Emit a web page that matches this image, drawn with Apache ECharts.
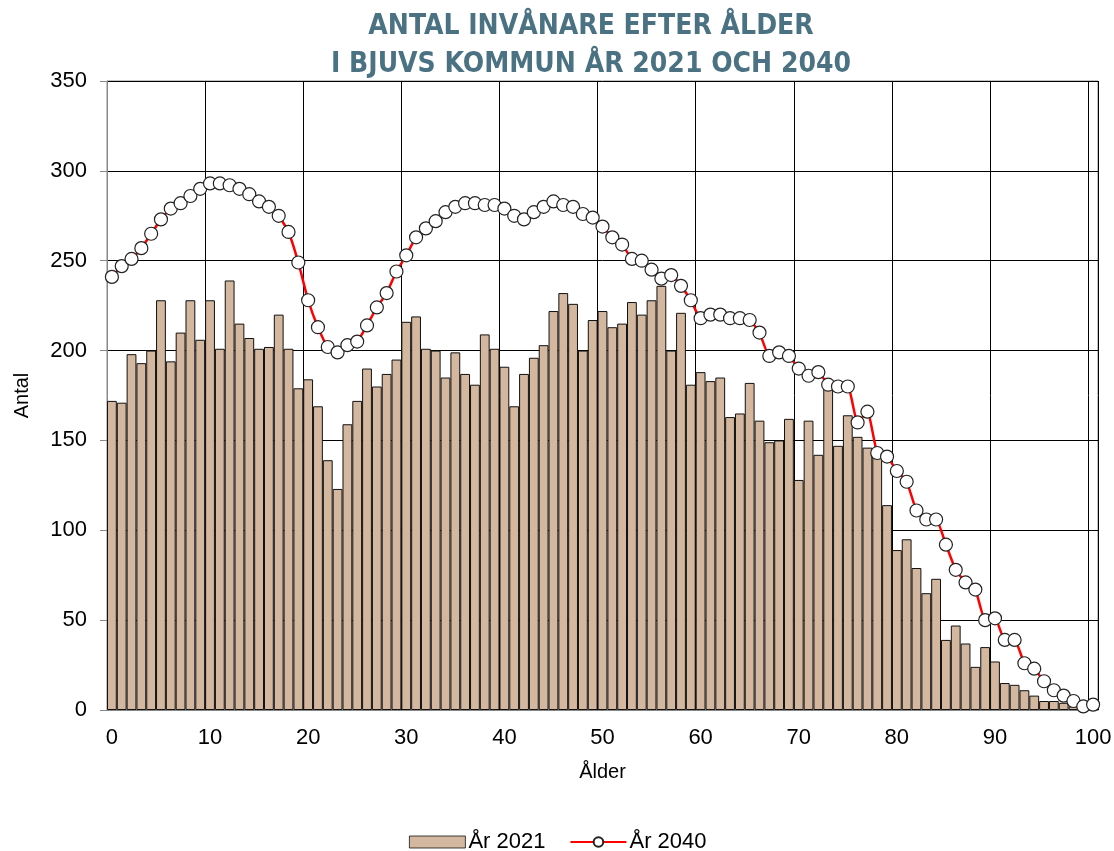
<!DOCTYPE html>
<html>
<head>
<meta charset="utf-8">
<title>Antal invånare efter ålder</title>
<script src="https://cdn.jsdelivr.net/npm/echarts@6/dist/echarts.min.js"></script>
<style>
  html, body { margin: 0; padding: 0; background: #fff; }
  #chart { width: 1114px; height: 851px; }
</style>
</head>
<body>
<div id="chart"></div>
<script>
// ålder 0-100
var ages = [];
for (var i = 0; i <= 100; i++) ages.push(String(i));

var yTicks = [0, 50, 100, 150, 200, 250, 300, 350];

var pop2021 = [
  172, 171, 198, 193, 200, 228, 194, 210, 228, 206,
  228, 201, 239, 215, 207, 201, 202, 220, 201, 179,
  184, 169, 139, 123, 159, 172, 190, 180, 187, 195,
  216, 219, 201, 200, 185, 199, 187, 181, 209, 201,
  191, 169, 187, 196, 203, 222, 232, 226, 200, 217,
  222, 213, 215, 227, 220, 228, 236, 200, 221, 181,
  188, 183, 185, 163, 165, 182, 161, 149, 150, 162,
  128, 161, 142, 179, 147, 164, 152, 146, 142, 114,
  89, 95, 79, 65, 73, 39, 47, 37, 24, 35,
  27, 15, 14, 11, 8, 5, 5, 4, 2, 1,
  1
];

var pop2040 = [
  241, 247, 251, 257, 265, 273, 279, 282, 286, 290,
  293, 293, 292, 290, 287, 283, 280, 275, 266, 249,
  228, 213, 202, 199, 203, 205, 214, 224, 232, 244,
  253, 263, 268, 272, 277, 280, 282, 282, 281, 281,
  279, 275, 273, 277, 280, 283, 281, 280, 276, 274,
  269, 263, 259, 251, 250, 245, 240, 242, 236, 228,
  218, 220, 220, 218, 218, 217, 210, 197, 199, 197,
  190, 186, 188, 181, 180, 180, 160, 166, 143, 141,
  133, 127, 111, 106, 106, 92, 78, 71, 67, 50,
  51, 39, 39, 26, 23, 16, 11, 8, 5, 2,
  3
];

var myChart = echarts.init(document.getElementById('chart'));

var every10 = function (index) { return index % 10 === 0; };
var font = 'Liberation Sans, Arial, sans-serif';

var option = {
  animation: false,
  title: {
    text: 'ANTAL INVÅNARE EFTER ÅLDER\nI BJUVS KOMMUN ÅR 2021 OCH 2040',
    left: 586,
    top: 3,
    textAlign: 'center',
    textStyle: {
      fontFamily: '"Liberation Sans Narrow", "DejaVu Sans Condensed", sans-serif',
      fontWeight: 'bold',
      fontSize: 28,
      lineHeight: 38,
      color: '#4a7283'
    }
  },
  legend: {
    left: 404,
    top: 826,
    itemWidth: 56,
    itemHeight: 12,
    itemGap: 24,
    textStyle: { fontFamily: font, fontSize: 22, color: '#000', padding: [0, 0, 0, -2] },
    data: [
      { name: 'År 2021', icon: 'rect', itemStyle: { borderWidth: 0.8 } },
      { name: 'År 2040' }
    ]
  },
  grid: {
    left: 107,
    right: 16,
    top: 81,
    bottom: 141,
    outerBoundsMode: 'none',
    show: true,
    borderColor: '#888',
    borderWidth: 1
  },
  xAxis: {
    type: 'category',
    data: ages,
    boundaryGap: true,
    name: 'Ålder',
    nameLocation: 'middle',
    nameGap: 52,
    nameTextStyle: { fontFamily: font, fontSize: 20, color: '#000' },
    axisLine: { lineStyle: { color: '#888' } },
    axisTick: { interval: every10, length: 6, lineStyle: { color: '#888' } },
    axisLabel: {
      interval: every10,
      fontFamily: font,
      fontSize: 22,
      color: '#000',
      margin: 17
    },
    splitLine: {
      show: true,
      interval: function (index) { return index % 10 === 0 && index > 0; },
      lineStyle: { color: '#000', width: 1 }
    }
  },
  yAxis: {
    type: 'value',
    min: yTicks[0],
    max: yTicks[yTicks.length - 1],
    interval: 50,
    name: 'Antal',
    nameLocation: 'middle',
    nameGap: 75,
    nameRotate: 90,
    nameTextStyle: { fontFamily: font, fontSize: 20, color: '#000' },
    axisLine: { show: true, lineStyle: { color: '#888' } },
    axisTick: { show: true, length: 7, lineStyle: { color: '#888' } },
    axisLabel: {
      fontFamily: font,
      fontSize: 22,
      color: '#000',
      margin: 20
    },
    splitLine: { lineStyle: { color: '#000', width: 1 } }
  },
  series: [
    {
      name: 'År 2021',
      type: 'bar',
      data: pop2021,
      barCategoryGap: '0%',
      itemStyle: {
        color: '#d3b79f',
        borderColor: '#111',
        borderWidth: 1
      }
    },
    {
      name: 'År 2040',
      type: 'line',
      data: pop2040,
      smooth: 0.15,
      symbol: 'circle',
      symbolSize: 13,
      showAllSymbol: true,
      lineStyle: { color: '#ff0000', width: 2.5 },
      itemStyle: {
        color: '#fff',
        borderColor: '#222',
        borderWidth: 1.2
      },
      z: 3
    }
  ]
};

myChart.setOption(option);
</script>
</body>
</html>
